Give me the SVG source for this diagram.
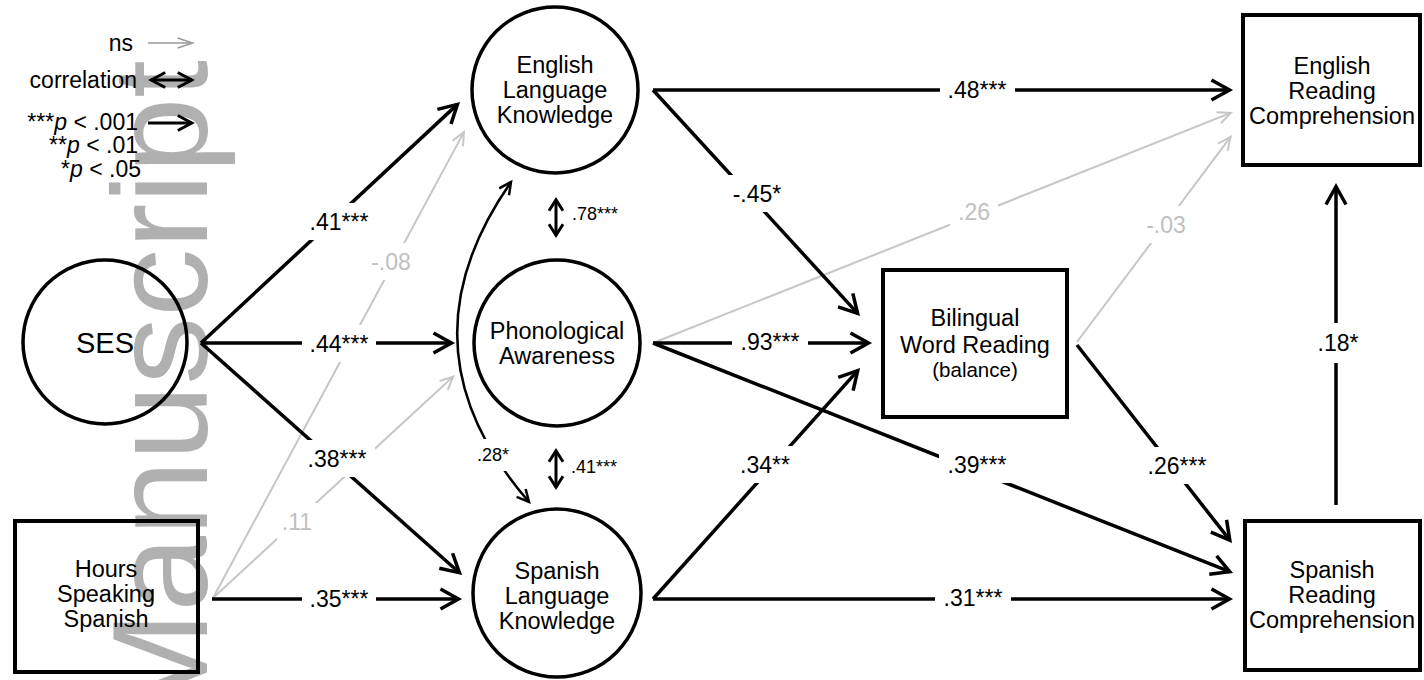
<svg xmlns="http://www.w3.org/2000/svg" width="1424" height="680" viewBox="0 0 1424 680">
<defs>
<style>
text{font-family:"Liberation Sans",Arial,Helvetica,sans-serif;fill:#000}
.node{fill:none;stroke:#000;stroke-width:3.5}
.box{fill:none;stroke:#000;stroke-width:4}
.nl{font-size:23.5px;text-anchor:middle}
.e{fill:none;stroke:#000;stroke-width:3.5;marker-end:url(#ah)}
.g{fill:none;stroke:#c6c6c6;stroke-width:2;marker-end:url(#ahg)}
.c{fill:none;stroke:#000;stroke-width:3;marker-start:url(#ahs);marker-end:url(#ahs)}
.el{font-size:23px;text-anchor:middle}
.sl{font-size:18px}
.gt{fill:#c0c0c0}
.bg{fill:#fff;stroke:none}
.lg{font-size:23px;text-anchor:end}
</style>
<marker id="ah" markerUnits="userSpaceOnUse" viewBox="-25 -15 30 30" markerWidth="30" markerHeight="30" refX="0" refY="0" orient="auto" overflow="visible"><path d="M-18,-10 L0,0 L-18,10" fill="none" stroke="#000" stroke-width="3.5" stroke-miterlimit="10"/></marker>
<marker id="ahg" markerUnits="userSpaceOnUse" viewBox="-20 -10 24 20" markerWidth="24" markerHeight="20" refX="0" refY="0" orient="auto" overflow="visible"><path d="M-13,-6 L0,0 L-13,6" fill="none" stroke="#c6c6c6" stroke-width="2" stroke-miterlimit="10"/></marker>
<marker id="ahs" markerUnits="userSpaceOnUse" viewBox="-20 -10 24 20" markerWidth="24" markerHeight="20" refX="0" refY="0" orient="auto-start-reverse" overflow="visible"><path d="M-11,-7 L0,0 L-11,7" fill="none" stroke="#000" stroke-width="3" stroke-miterlimit="10"/></marker>
<marker id="ahc" markerUnits="userSpaceOnUse" viewBox="-20 -10 24 20" markerWidth="24" markerHeight="20" refX="0" refY="0" orient="auto-start-reverse" overflow="visible"><path d="M-12,-6 L0,0 L-12,6" fill="none" stroke="#000" stroke-width="2.5" stroke-miterlimit="10"/></marker>
<marker id="ahl" markerUnits="userSpaceOnUse" viewBox="-20 -10 24 20" markerWidth="24" markerHeight="20" refX="0" refY="0" orient="auto" overflow="visible"><path d="M-15,-5 L0,0 L-15,5" fill="none" stroke="#999" stroke-width="1.5" stroke-miterlimit="10"/></marker>
<marker id="ahlb" markerUnits="userSpaceOnUse" viewBox="-20 -10 24 20" markerWidth="24" markerHeight="20" refX="0" refY="0" orient="auto-start-reverse" overflow="visible"><path d="M-14,-7.5 L0,0 L-14,7.5" fill="none" stroke="#000" stroke-width="3" stroke-miterlimit="10"/></marker>
</defs>

<g id="watermark">
<text x="0" y="0" transform="translate(207,725) rotate(-90)" font-size="136" style="fill:#b0b0b0">Manuscript</text>
</g>

<g id="legend">
<text class="lg" x="133" y="51">ns</text>
<line x1="148" y1="43" x2="192.6" y2="43" stroke="#999" stroke-width="1.5" marker-end="url(#ahl)"/>
<text class="lg" x="137" y="88">correlation</text>
<line x1="151.2" y1="80" x2="191.8" y2="80" stroke="#000" stroke-width="3" marker-start="url(#ahlb)" marker-end="url(#ahlb)"/>
<text class="lg" x="138" y="130">***<tspan font-style="italic">p</tspan> &lt; .001</text>
<line x1="148" y1="123" x2="191.8" y2="123" stroke="#000" stroke-width="3" marker-end="url(#ahlb)"/>
<text class="lg" x="138" y="153">**<tspan font-style="italic">p</tspan> &lt; .01</text>
<text class="lg" x="141" y="177">*<tspan font-style="italic">p</tspan> &lt; .05</text>
</g>

<g id="node-ses">
<circle class="node" cx="105" cy="342" r="82"/>
<text x="105" y="353" font-size="29" text-anchor="middle">SES</text>
</g>
<g id="node-hours">
<rect class="box" x="15" y="521" width="183" height="151"/>
<text class="nl" x="106" y="577">Hours</text>
<text class="nl" x="106" y="602">Speaking</text>
<text class="nl" x="106" y="627">Spanish</text>
</g>
<g id="node-elk">
<circle class="node" cx="555" cy="90" r="83"/>
<text class="nl" x="555" y="73">English</text>
<text class="nl" x="555" y="98">Language</text>
<text class="nl" x="555" y="123">Knowledge</text>
</g>
<g id="node-pa">
<circle class="node" cx="557" cy="343" r="83"/>
<text class="nl" x="557" y="339">Phonological</text>
<text class="nl" x="557" y="364">Awareness</text>
</g>
<g id="node-slk">
<circle class="node" cx="557" cy="593" r="84"/>
<text class="nl" x="557" y="579">Spanish</text>
<text class="nl" x="557" y="604">Language</text>
<text class="nl" x="557" y="629">Knowledge</text>
</g>
<g id="node-bwr">
<rect class="box" x="883" y="270" width="184" height="147"/>
<text class="nl" x="975" y="326" font-size="24">Bilingual</text>
<text class="nl" x="975" y="353" font-size="24">Word Reading</text>
<text class="nl" x="975" y="377" style="font-size:20.5px">(balance)</text>
</g>
<g id="node-erc">
<rect class="box" x="1243" y="15" width="177" height="150"/>
<text class="nl" x="1332" y="74">English</text>
<text class="nl" x="1332" y="99">Reading</text>
<text class="nl" x="1332" y="124">Comprehension</text>
</g>
<g id="node-src">
<rect class="box" x="1245" y="521" width="175" height="149"/>
<text class="nl" x="1332" y="578">Spanish</text>
<text class="nl" x="1332" y="603">Reading</text>
<text class="nl" x="1332" y="628">Comprehension</text>
</g>

<g id="connectors">
<line class="g" x1="213" y1="598" x2="463.9" y2="132.1"/>
<line class="g" x1="213" y1="598" x2="453.2" y2="376.6"/>
<line class="g" x1="653" y1="343" x2="1230.8" y2="112.9"/>
<line class="g" x1="1077" y1="342" x2="1230.6" y2="136.9"/>
<line class="e" x1="201" y1="343" x2="457.4" y2="104.4"/>
<line class="e" x1="201" y1="343" x2="451.5" y2="343"/>
<line class="e" x1="201" y1="343" x2="459.4" y2="572.7"/>
<line class="e" x1="212" y1="599" x2="458.5" y2="599"/>
<line class="e" x1="653" y1="90" x2="1229.5" y2="90"/>
<line class="e" x1="653" y1="90" x2="857.6" y2="313.4"/>
<line class="e" x1="653" y1="343" x2="868.5" y2="343"/>
<line class="e" x1="653" y1="343" x2="1229.7" y2="571.7"/>
<line class="e" x1="653" y1="599" x2="857.7" y2="370.6"/>
<line class="e" x1="653" y1="599" x2="1229.5" y2="599"/>
<line class="e" x1="1077" y1="345" x2="1229.8" y2="540.2"/>
<line class="e" x1="1336" y1="505" x2="1336" y2="186.5"/>
<line class="c" x1="556" y1="199.8" x2="556" y2="235.2"/>
<line class="c" x1="556" y1="450.8" x2="556" y2="487.2"/>
<path d="M529,502 Q395,348 511,182" fill="none" stroke="#000" stroke-width="2.5" marker-start="url(#ahc)" marker-end="url(#ahc)"/>
</g>

<g id="edge-labels">
<rect class="bg" x="302" y="203" width="74" height="37"/>
<rect class="bg" x="302" y="325" width="74" height="37"/>
<rect class="bg" x="301" y="440" width="74" height="37"/>
<rect class="bg" x="302" y="580" width="74" height="37"/>
<rect class="bg" x="364" y="243" width="54" height="37"/>
<rect class="bg" x="277" y="503" width="41" height="37"/>
<rect class="bg" x="940" y="71" width="75" height="37"/>
<rect class="bg" x="724" y="175" width="66" height="37"/>
<rect class="bg" x="950" y="193" width="48" height="37"/>
<rect class="bg" x="732" y="323" width="76" height="37"/>
<rect class="bg" x="732" y="446" width="66" height="37"/>
<rect class="bg" x="939" y="446" width="76" height="37"/>
<rect class="bg" x="935" y="579" width="76" height="37"/>
<rect class="bg" x="1137" y="206" width="58" height="37"/>
<rect class="bg" x="1140" y="447" width="75" height="37"/>
<rect class="bg" x="1312" y="323" width="48" height="40"/>
<rect class="bg" x="472" y="439" width="42" height="32"/>
<text class="el" x="339" y="230">.41***</text>
<text class="el" x="339" y="352">.44***</text>
<text class="el" x="337" y="467">.38***</text>
<text class="el" x="339" y="607">.35***</text>
<text class="el gt" x="391" y="270">-.08</text>
<text class="el gt" x="297" y="530">.11</text>
<text class="el" x="977" y="98">.48***</text>
<text class="el" x="757" y="202">-.45*</text>
<text class="el gt" x="974" y="220">.26</text>
<text class="el" x="770" y="350">.93***</text>
<text class="el" x="765" y="473">.34**</text>
<text class="el" x="977" y="473">.39***</text>
<text class="el" x="973" y="606">.31***</text>
<text class="el gt" x="1166" y="233">-.03</text>
<text class="el" x="1177" y="474">.26***</text>
<text class="el" x="1338" y="351">.18*</text>
<text class="sl" x="493" y="461" text-anchor="middle">.28*</text>
<text class="sl" x="572" y="220">.78***</text>
<text class="sl" x="571" y="473">.41***</text>
</g>
</svg>
